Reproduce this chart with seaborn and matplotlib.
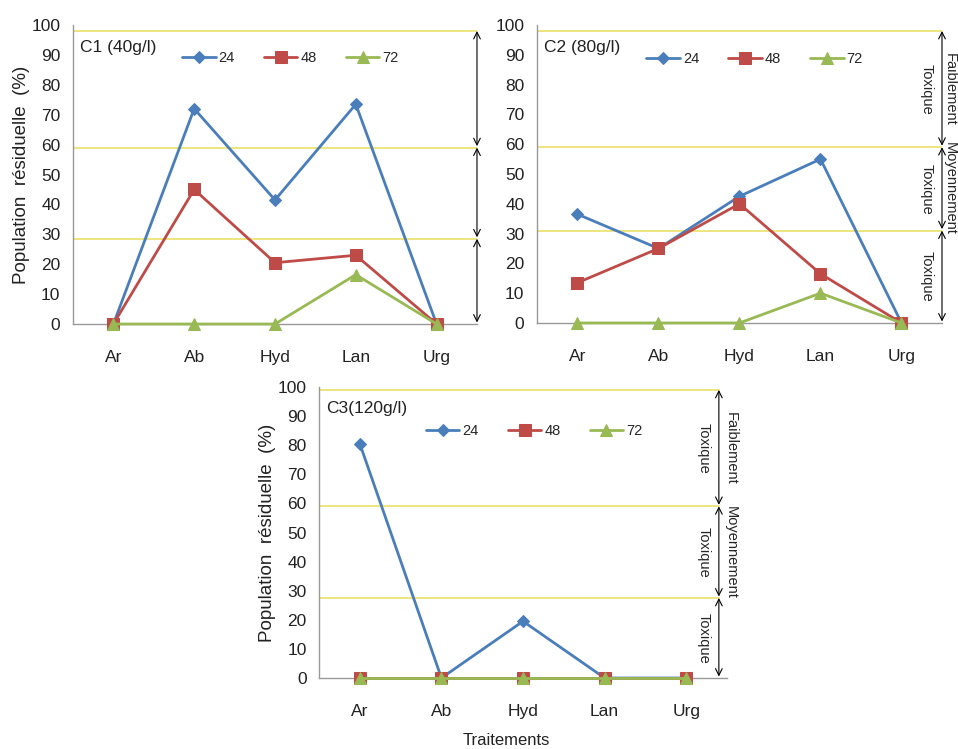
import numpy as np
import pandas as pd
import matplotlib
matplotlib.use("Agg")
import matplotlib.pyplot as plt
import seaborn as sns

# Données
traitements = ["Ar", "Ab", "Hyd", "Lan", "Urg"]
durees = ["24", "48", "72"]

c1_24 = [0, 72, 41.5, 73.5, 0]
c1_48 = [0, 45, 20.5, 23, 0]
c1_72 = [0, 0, 0, 16.5, 0]

c2_24 = [36.5, 25, 42.5, 55, 0]
c2_48 = [13.5, 25, 40, 16.5, 0]
c2_72 = [0, 0, 0, 10, 0]

c3_24 = [80.5, 0, 19.5, 0, 0]
c3_48 = [0, 0, 0, 0, 0]
c3_72 = [0, 0, 0, 0, 0]

seuils_c1 = [98, 59, 28.5]
seuils_c2 = [98, 59, 31]
seuils_c3 = [99, 59, 27.5]

titres = ["C1 (40g/l)", "C2 (80g/l)", "C3(120g/l)"]
zones = ["Faiblement", "Moyennement", ""]

sns.set_style("white")
plt.rcParams["font.family"] = ["Liberation Sans", "DejaVu Sans"]

couleurs = ["#4A7EBB", "#BE4B48", "#98B954"]
marqueurs = ["D", "s", "^"]
tailles = [6, 8, 9]

fig = plt.figure(figsize=(9.58, 7.49), dpi=100)
ax1 = fig.add_axes([0.0762, 0.5674, 0.4217, 0.3992])
ax2 = fig.add_axes([0.5605, 0.5688, 0.4228, 0.3978])
ax3 = fig.add_axes([0.3330, 0.0948, 0.4259, 0.3885])

# (axe, séries, seuils, titre, x flèches, textes, légende x, légende y, décalage texte)
panneaux = [
    (ax1, [c1_24, c1_48, c1_72], seuils_c1, titres[0], 1.0, False, 0.27, 89, 0.028),
    (ax2, [c2_24, c2_48, c2_72], seuils_c2, titres[1], 1.0, True, 0.27, 88.5, 0.02),
    (ax3, [c3_24, c3_48, c3_72], seuils_c3, titres[2], 0.98, True, 0.262, 85, 0.028),
]

x = np.arange(len(traitements))

for ax, series, seuils, titre, xa, textes, leg_x, leg_y, dx in panneaux:
    # lignes de seuil jaunes
    for s in seuils:
        ax.axhline(s, xmin=0, xmax=xa, color="#E8DC5C", lw=1.1, zorder=1)

    for vals, d, c, m, ms in zip(series, durees, couleurs, marqueurs, tailles):
        df = pd.DataFrame({"Traitement": x, "Valeur": vals})
        sns.lineplot(data=df, x="Traitement", y="Valeur", ax=ax, color=c,
                     marker=m, markersize=ms, markeredgecolor=c, linewidth=2,
                     label=d, zorder=3, clip_on=False)

    ax.set_xlim(-0.5, 4.5)
    ax.set_ylim(0, 100)
    ax.set_yticks(range(0, 101, 10))
    ax.set_xticks(x)
    ax.set_xticklabels(traitements)
    ax.set_xticks(np.arange(-0.5, 5, 1), minor=True)
    ax.tick_params(axis="x", which="major", length=0, pad=19, labelsize=12.5, colors="#222222")
    ax.tick_params(axis="x", which="minor", length=5, color="#999999", direction="out")
    ax.tick_params(axis="y", length=5, color="#999999", labelsize=12.5, labelcolor="#222222", pad=4)
    for sp in ["top", "right"]:
        ax.spines[sp].set_visible(False)
    for sp in ["left", "bottom"]:
        ax.spines[sp].set_color("#999999")
        ax.spines[sp].set_linewidth(1)
    ax.set_xlabel("")
    ax.set_ylabel("")

    ax.text(0.018, 92.5, titre, transform=ax.get_yaxis_transform(), fontsize=12.5,
            ha="left", va="center", color="#222222")

    ax.legend(loc="center left", bbox_to_anchor=(leg_x, leg_y),
              bbox_transform=ax.get_yaxis_transform(), ncol=3, frameon=False,
              handlelength=2.3, handletextpad=0.2, columnspacing=2.0,
              borderpad=0, borderaxespad=0,
              prop={"family": ["Liberation Sans Narrow", "Liberation Sans"], "size": 10.5})

    # flèches des classes de toxicité
    bornes = seuils + [0]
    tr = ax.get_yaxis_transform()
    for haut, bas in zip(bornes[:-1], bornes[1:]):
        ax.annotate("", xy=(xa, bas + 0.5), xytext=(xa, haut), xycoords=tr, textcoords=tr,
                    arrowprops=dict(arrowstyle="<->", color="black", lw=0.8,
                                    shrinkA=0, shrinkB=0, mutation_scale=12),
                    annotation_clip=False)
    if textes:
        for haut, bas, z in zip(bornes[:-1], bornes[1:], zones):
            milieu = (haut + bas) / 2
            if z:
                ax.text(xa + dx, milieu, z, transform=tr, rotation=-90, fontsize=10.5,
                        ha="center", va="center", clip_on=False)
            ax.text(xa - 0.037, milieu, "Toxique", transform=tr, rotation=-90, fontsize=10.5,
                    ha="center", va="center", clip_on=False)

for ax in [ax1, ax3]:
    ax.set_ylabel("Population  résiduelle  (%)", fontsize=13.5, color="#222222", labelpad=1)

ax3.set_xlabel("Traitements", fontsize=12, color="#222222")
ax3.xaxis.set_label_coords(0.46, -0.19)

fig.savefig("out.png", dpi=100, facecolor="white")
